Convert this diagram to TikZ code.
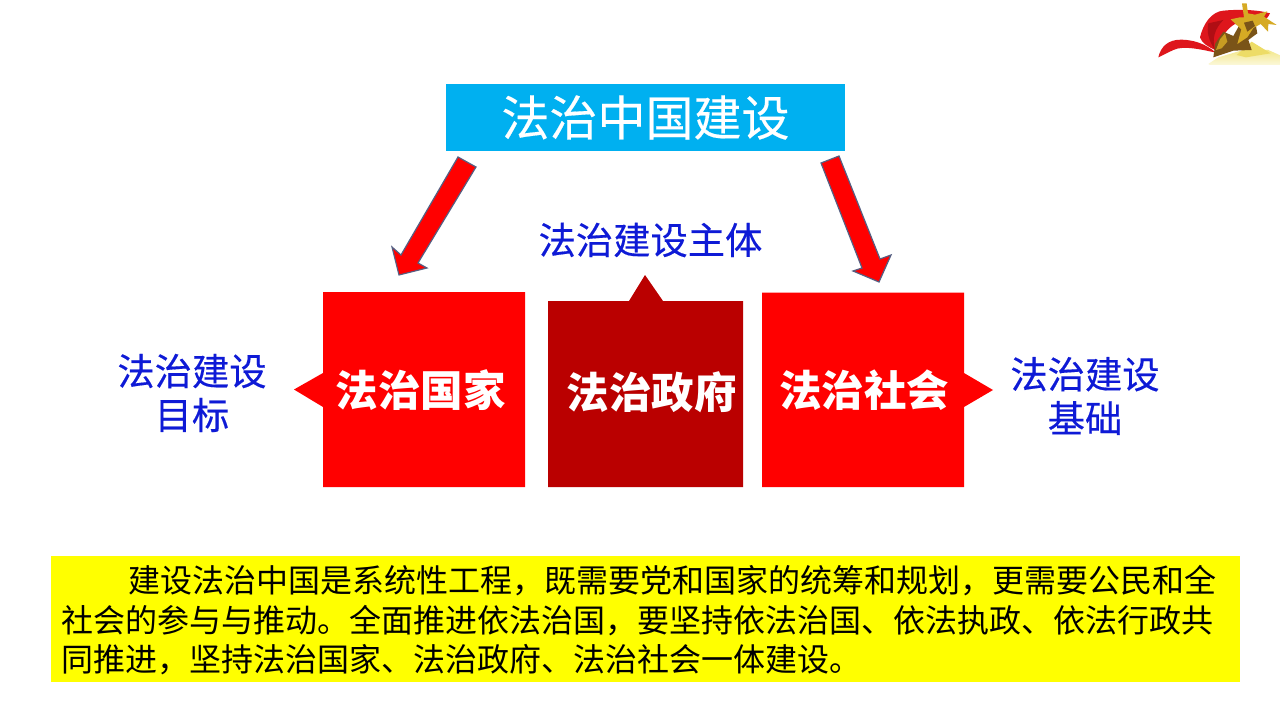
\documentclass[tikz,border=0pt]{standalone}
\usepackage{fontspec}
\setmainfont{Noto Sans CJK SC}
\newfontfamily\medcjk[FakeBold=0.35]{Noto Sans CJK SC}
\definecolor{titlecyan}{RGB}{0,176,240}
\definecolor{darkred}{RGB}{186,0,0}
\definecolor{labelblue}{RGB}{14,26,214}
\definecolor{arrowedge}{RGB}{85,95,130}
\definecolor{ribbon}{RGB}{222,22,28}
\definecolor{ribbondark}{RGB}{176,14,20}
\definecolor{bronze}{RGB}{122,84,24}
\definecolor{gold}{RGB}{214,170,36}
\definecolor{panelyellow}{RGB}{255,255,0}
\definecolor{plinth}{RGB}{240,226,110}
\tikzset{
  x=1pt,y=-1pt,
  banner/.style={fill=titlecyan,text=white,font=\medcjk\fontsize{48}{48}\selectfont,inner sep=0pt,anchor=center},
  pillar/.style={fill=red,draw=none},
  pillarmid/.style={fill=darkred,draw=none},
  pillartext/.style={text=white,font=\fontsize{42.5}{42.5}\selectfont\bfseries,inner sep=0pt},
  bluelabel/.style={text=labelblue,font=\medcjk\fontsize{37.3}{44}\selectfont,align=center,inner sep=0pt},
  blockarrow/.style={fill=red,draw=arrowedge,line width=1.2pt,line join=miter},
  summary/.style={fill=panelyellow,text=black,font=\fontsize{32}{39.5}\selectfont,align=left,inner sep=0pt},
}
\begin{document}
\begin{tikzpicture}
\useasboundingbox (0,0) rectangle (1280,720);
\fill[white] (0,0) rectangle (1280,720);

% corner emblem: ribbon, bronze figure and golden plinth
\begin{scope}[shift={(1140,0)},x=0.3333pt,y=-0.3333pt]
  \shade[top color=plinth!80!white,bottom color=plinth!25!white,draw=none]
    (205,192) -- (235,172) -- (310,150) -- (385,150) -- (418,165) -- (418,195) -- (210,195) -- cycle;
  \fill[plinth!90!gold] (290,165) -- (335,125) -- (392,160) -- (318,172) -- cycle;
  \fill[ribbon] (55,172) .. controls (62,140) and (85,118) .. (125,119)
     .. controls (160,120) and (195,130) .. (228,158)
     .. controls (190,150) and (130,135) .. (100,150) .. controls (85,157) and (70,165) .. cycle;
  \fill[ribbon] (180,112) .. controls (190,70) and (215,35) .. (250,32)
     .. controls (290,28) and (350,28) .. (390,40)
     .. controls (380,70) and (320,85) .. (285,72)
     .. controls (260,85) and (235,125) .. (225,150)
     .. controls (205,140) and (185,130) .. cycle;
  \fill[ribbondark] (205,70) .. controls (200,95) and (205,120) .. (225,150)
     .. controls (215,115) and (225,85) .. (250,60) -- cycle;
  \fill[bronze] (220,172) -- (226,130) -- (250,95) -- (280,108) -- (300,72) -- (345,62) -- (352,100)
     -- (325,120) -- (335,150) -- (280,152) -- cycle;
  \fill[gold] (306,10) -- (320,10) -- (324,40) -- (345,44) -- (382,34) -- (372,50) -- (410,75) -- (385,72) -- (384,95) -- (362,72) -- (340,84)
     -- (322,112) -- (292,132) -- (304,88) -- (272,58) -- (300,52) -- (312,52) -- cycle;
  \fill[bronze] (312,68) -- (338,62) -- (345,78) -- (322,95) -- cycle;
  \fill[gold!85!bronze] (228,150) -- (240,118) -- (255,100) -- (262,125) -- (245,145) -- cycle;
\end{scope}

% title banner
\node[banner,minimum width=399pt,minimum height=67pt] (title) at (645.5,117.5) {法治中国建设};

% block arrows from the banner to the outer pillars
\filldraw[blockarrow] (458,157) -- (476,167) -- (418,263) -- (427,268) -- (399,275) -- (392,247) -- (401,255) -- cycle;
\filldraw[blockarrow] (821,163) -- (839,156) -- (880,259) -- (891,255) -- (879,282) -- (853,271) -- (862,268) -- cycle;

% outer pillars with their pointers, middle pillar with its spike
\filldraw[pillar] (323,292) -- (525,292) -- (525,487) -- (323,487) -- (323,407) -- (294,389.5) -- (323,373) -- cycle;
\filldraw[pillarmid] (548,301) -- (629,301) -- (645,275) -- (663,301) -- (743,301) -- (743,487) -- (548,487) -- cycle;
\filldraw[pillar] (762,292.5) -- (964,292.5) -- (964,373) -- (993,390) -- (964,407) -- (964,487) -- (762,487) -- cycle;

\node[pillartext] (state) at (420.5,390) {法治国家};
\node[pillartext] (govt) at (651.5,392) {法治政府};
\node[pillartext] (society) at (864,390) {法治社会};

% captions
\node[bluelabel] (subject) at (650.5,240) {法治建设主体};
\node[bluelabel] (goal) at (192,393) {法治建设\\目标};
\node[bluelabel] (base) at (1085,396) {法治建设\\基础};

% summary panel
\node[summary,minimum width=1189pt,minimum height=126pt] (panel) at (645.5,619) {};
\node[summary,fill=none,anchor=west] (paragraph) at (61,620.5)
  {\hspace*{67pt}建设法治中国是系统性工程，既需要党和国家的统筹和规划，更需要公民和全\\
   社会的参与与推动。全面推进依法治国，要坚持依法治国、依法执政、依法行政共\\
   同推进，坚持法治国家、法治政府、法治社会一体建设。};
\end{tikzpicture}
\end{document}
